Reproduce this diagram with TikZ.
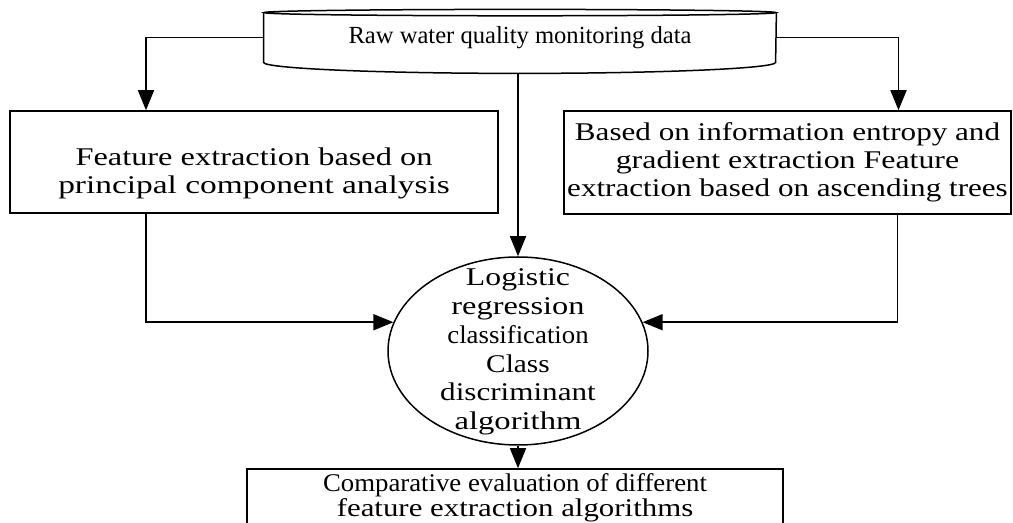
\documentclass[tikz,border=0pt]{standalone}
\usepackage{fontspec}
\usepackage{graphicx}
\setmainfont{Liberation Serif}
\usetikzlibrary{arrows.meta,shapes.geometric,calc}
\tikzset{
  box/.style={draw, line width=0.75pt, inner sep=0pt, align=center},
  conn/.style={line width=0.75pt, -{Triangle[length=10pt,width=8pt]}},
}
\newcommand{\sx}[2]{\scalebox{#1}[1]{#2}}
\newcommand{\lowered}[2]{\raisebox{-#1}[\height][\depth]{\begin{tabular}{@{}c@{}}#2\end{tabular}}}
\begin{document}
\begin{tikzpicture}[x=0.5pt,y=-0.5pt,font=\fontsize{12.75}{14}\selectfont]
\useasboundingbox (0,0) rectangle (1013,523);
% top drum
\node[inner sep=0pt, minimum width=256pt, minimum height=24.5pt, font=\fontsize{12.3}{14}\selectfont] (raw) at (520,37.5) {Raw water quality monitoring data};
\draw[line width=0.75pt] (raw.north west) -- (raw.south west)
  arc[start angle=180, end angle=360, x radius=128pt, y radius=5.5pt]
  -- (raw.north east);
\draw[line width=0.75pt] (raw.north) ellipse[x radius=128pt, y radius=1.6pt];
\coordinate (rawbot) at ([yshift=-5.5pt]raw.south);
% boxes
\node[box, minimum width=244pt, minimum height=51pt] (fe1) at (254,162)
  {\lowered{6pt}{\sx{1.27}{Feature extraction based on}\\\sx{1.31}{principal component analysis}}};
\node[box, minimum width=223.5pt, minimum height=51.5pt] (fe2) at (787.5,162.5)
  {\sx{1.22}{Based on information entropy and}\\\sx{1.25}{gradient extraction Feature}\\\sx{1.22}{extraction based on ascending trees}};
\node[ellipse, draw, line width=0.75pt, inner sep=0pt, minimum width=130pt, minimum height=94pt] (lr) at (518,351)
  {\makebox[0pt]{\smash{\raisebox{-3.5pt}{\fontsize{12.75}{14.4}\selectfont\begin{tabular}{@{}c@{}}\sx{1.245}{Logistic}\\\sx{1.27}{regression}\\\sx{1.05}{classification}\\\sx{1.15}{Class}\\\sx{1.22}{discriminant}\\\sx{1.28}{algorithm}\end{tabular}}}}};
\node[box, minimum width=268pt, minimum height=29pt] (ev) at (515,498)
  {\raisebox{-1.5pt}{\sx{1.05}{Comparative evaluation of different}}\\\sx{1.21}{feature extraction algorithms}};
% connectors
\coordinate (fe1top) at ([xshift=-54pt]fe1.north);
\coordinate (fe1bot) at ([xshift=-54pt]fe1.south);
\coordinate (fe2top) at ([xshift=55.5pt]fe2.north);
\coordinate (fe2bot) at ([xshift=55pt]fe2.south);
\draw[conn] (raw.west) -| (fe1top);
\draw[conn] (raw.east) -| (fe2top);
\draw[conn] (rawbot -| lr.north) -- (lr.north);
\draw[conn] (fe1bot) |- (lr.167);
\draw[conn] (fe2bot) |- (lr.13);
\draw[conn] (lr.south) -- (lr.south |- ev.north);
\end{tikzpicture}
\end{document}
